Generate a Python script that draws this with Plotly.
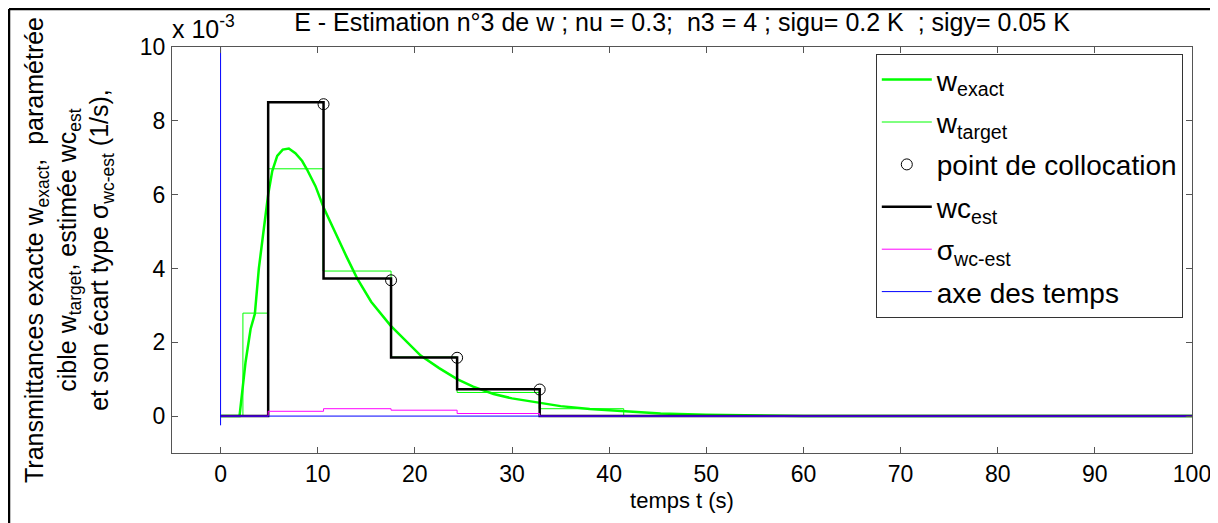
import plotly.graph_objects as go

# ---- data (values in units of 1e-3 1/s) ----
t_exact = [0, 1.95, 2.57, 3.09, 3.53, 3.94, 4.46, 4.9, 5.32, 5.83, 6.4, 7.03, 7.7, 8.4, 8.9, 9.77,
           10.63, 11.83, 13.0, 14.06, 15.5, 17.5, 19.0, 20.6, 22.5, 24.35, 26.0, 28.1, 30.0,
           32.6, 35.0, 38.0, 41.5, 45.3, 50.0, 55.0, 60.0, 100.0]
w_exact = [0, 0, 1.46, 2.36, 2.77, 4.0, 5.09, 6.0, 6.64, 7.05, 7.22, 7.25, 7.12, 6.91, 6.68, 6.23,
           5.64, 4.95, 4.3, 3.73, 3.1, 2.45, 2.05, 1.64, 1.3, 1.0, 0.8, 0.6, 0.48,
           0.36, 0.27, 0.19, 0.13, 0.07, 0.035, 0.015, 0.005, 0]

t_target = [0, 2.3, 4.9, 10.55, 17.55, 24.35, 32.8, 41.5, 100]
w_target = [0, 2.79, 6.7, 3.93, 1.6, 0.64, 0.2, 0, 0]

t_est = [0, 4.9, 10.6, 17.55, 24.35, 32.85, 100]
wc_est = [0, 8.5, 3.73, 1.59, 0.73, 0, 0]
sig_est = [0, 0.13, 0.2, 0.16, 0.07, 0, 0]

t_colloc = [10.6, 17.55, 24.35, 32.85]
w_colloc = [8.45, 3.68, 1.58, 0.72]

t_axis = [0, 0, None, 0, 100]
y_axis = [10, -0.25, None, 0, 0]

FONT = "Liberation Sans, Arial, sans-serif"

fig = go.Figure()
fig.add_trace(go.Scatter(x=t_exact, y=w_exact, mode="lines", name="w<sub>exact</sub>", legendgroup="a",
                         line=dict(color="#00FF00", width=2.5)))
fig.add_trace(go.Scatter(x=t_target, y=w_target, mode="lines", name="w<sub>target</sub>", legendgroup="b",
                         line=dict(color="#00FF00", width=1, shape="hv")))
fig.add_trace(go.Scatter(x=t_colloc, y=w_colloc, mode="markers", name="point de collocation", legendgroup="c",
                         marker=dict(symbol="circle-open", color="black", size=11, line=dict(width=1))))
fig.add_trace(go.Scatter(x=t_est, y=wc_est, mode="lines", name="wc<sub>est</sub>", legendgroup="d",
                         line=dict(color="black", width=2.5, shape="hv")))
fig.add_trace(go.Scatter(x=t_est, y=sig_est, mode="lines", name="σ<sub>wc-est</sub>", legendgroup="e",
                         line=dict(color="#FF00FF", width=1, shape="hv")))
fig.add_trace(go.Scatter(x=t_axis, y=y_axis, mode="lines", name="axe des temps", legendgroup="f",
                         line=dict(color="#0000FF", width=1)))

axcommon = dict(showline=True, linecolor="#555555", linewidth=1.3, mirror="ticks",
                ticks="inside", ticklen=6, tickcolor="#555555", showgrid=False, zeroline=False,
                automargin=False,
                tickfont=dict(family=FONT, size=23, color="black"))

fig.update_layout(
    width=1210, height=515,
    margin=dict(l=164, r=26, t=39, b=70, autoexpand=False),
    paper_bgcolor="white", plot_bgcolor="white",
    font=dict(family=FONT, color="black"),
    title=dict(text="E - Estimation n°3 de w ; nu = 0.3;  n3 = 4 ; sigu= 0.2 K  ; sigy= 0.05 K",
               x=0.5, xref="paper", xanchor="center", y=0.972, yanchor="middle",
               font=dict(family=FONT, size=25, color="black")),
    xaxis=dict(range=[-5, 100], tickmode="array", tickvals=[0, 10, 20, 30, 40, 50, 60, 70, 80, 90, 100],
               title=dict(text="temps t (s)", font=dict(family=FONT, size=22), standoff=6),
               ticklabelstandoff=0, **axcommon),
    yaxis=dict(range=[-1, 10], tickmode="array", tickvals=[0, 2, 4, 6, 8, 10],
               title=dict(text="Transmittances exacte w<sub>exact</sub>,  paramétrée<br>"
                               "cible w<sub>target</sub>, estimée wc<sub>est</sub><br>"
                               "et son écart type σ<sub>wc-est</sub> (1/s),",
                          font=dict(family=FONT, size=25), standoff=23),
               ticklabelstandoff=1, **axcommon),
    legend=dict(x=0.690, y=0.983, xanchor="left", yanchor="top",
                bgcolor="white", bordercolor="#333333", borderwidth=1,
                font=dict(family=FONT, size=28, color="black"),
                traceorder="grouped", tracegroupgap=3, itemwidth=50),
    showlegend=True,
)

fig.add_annotation(text="x 10<sup>-3</sup>", xref="paper", yref="paper", x=-0.002, y=1.005,
                   xanchor="left", yanchor="bottom", showarrow=False,
                   font=dict(family=FONT, size=25, color="black"))

# outer frame (left and top edges)
fig.add_shape(type="line", xref="paper", yref="paper", x0=-0.1598, x1=1.05, y0=1.0933, y1=1.0933,
              line=dict(color="black", width=2.5))
fig.add_shape(type="line", xref="paper", yref="paper", x0=-0.1598, x1=-0.1598, y0=1.0933, y1=-0.2,
              line=dict(color="black", width=2.5))

fig.write_html("out.html")
